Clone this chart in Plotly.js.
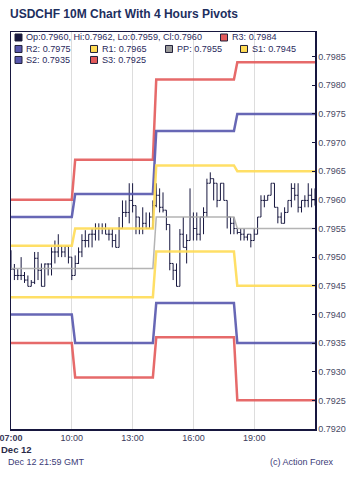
<!DOCTYPE html>
<html>
<head>
<meta charset="utf-8">
<script src="https://cdn.plot.ly/plotly-3.0.1.min.js"></script>
<style>
  html, body { margin: 0; padding: 0; background: #ffffff; }
  #chart { width: 350px; height: 481px; }
</style>
</head>
<body>
<div id="chart"></div>
<script>
// ---------------- DATA ----------------
const chartDay = '2025-12-12';
const firstBarTime = '07:00';
const barMinutes = 10;

const openP = [0.79509,0.79479,0.79468,0.79468,0.79468,0.79460,0.79449,0.79456,0.79498,0.79477,
  0.79449,0.79488,0.79488,0.79509,0.79509,0.79519,0.79509,0.79519,0.79500,0.79468,
  0.79489,0.79509,0.79529,0.79529,0.79540,0.79540,0.79550,0.79550,0.79550,0.79540,
  0.79540,0.79529,0.79517,0.79550,0.79578,0.79578,0.79599,0.79590,0.79570,0.79550,
  0.79559,0.79550,0.79570,0.79590,0.79608,0.79587,0.79582,0.79557,0.79489,0.79477,
  0.79449,0.79540,0.79517,0.79529,0.79570,0.79550,0.79540,0.79570,0.79578,0.79629,
  0.79637,0.79629,0.79599,0.79629,0.79599,0.79570,0.79559,0.79550,0.79543,0.79540,
  0.79535,0.79540,0.79529,0.79540,0.79570,0.79599,0.79599,0.79608,0.79629,0.79587,
  0.79570,0.79559,0.79578,0.79599,0.79620,0.79608,0.79587,0.79599,0.79599,0.79608,
  0.79600];
const highP = [0.79512,0.79488,0.79479,0.79500,0.79474,0.79468,0.79460,0.79509,0.79509,0.79489,
  0.79489,0.79489,0.79517,0.79529,0.79540,0.79519,0.79519,0.79519,0.79500,0.79503,
  0.79517,0.79540,0.79547,0.79540,0.79550,0.79559,0.79559,0.79559,0.79559,0.79550,
  0.79550,0.79540,0.79570,0.79599,0.79599,0.79629,0.79629,0.79590,0.79570,0.79587,
  0.79578,0.79578,0.79599,0.79629,0.79620,0.79613,0.79582,0.79557,0.79489,0.79489,
  0.79549,0.79570,0.79540,0.79620,0.79578,0.79578,0.79570,0.79587,0.79637,0.79648,
  0.79637,0.79629,0.79629,0.79629,0.79599,0.79570,0.79570,0.79550,0.79550,0.79550,
  0.79540,0.79540,0.79550,0.79570,0.79608,0.79608,0.79608,0.79629,0.79629,0.79587,
  0.79578,0.79587,0.79599,0.79629,0.79629,0.79629,0.79599,0.79608,0.79629,0.79620,
  0.79620];
const lowP = [0.79479,0.79460,0.79460,0.79460,0.79455,0.79449,0.79449,0.79453,0.79460,0.79449,
  0.79449,0.79468,0.79468,0.79489,0.79500,0.79500,0.79500,0.79489,0.79460,0.79468,
  0.79488,0.79500,0.79517,0.79517,0.79517,0.79529,0.79529,0.79540,0.79540,0.79529,
  0.79517,0.79517,0.79517,0.79550,0.79570,0.79559,0.79578,0.79540,0.79540,0.79540,
  0.79550,0.79550,0.79550,0.79587,0.79578,0.79578,0.79547,0.79477,0.79460,0.79449,
  0.79449,0.79517,0.79489,0.79529,0.79529,0.79529,0.79529,0.79540,0.79570,0.79629,
  0.79599,0.79587,0.79599,0.79599,0.79550,0.79540,0.79540,0.79540,0.79529,0.79529,
  0.79529,0.79517,0.79529,0.79540,0.79570,0.79587,0.79599,0.79608,0.79587,0.79559,
  0.79559,0.79559,0.79578,0.79587,0.79599,0.79578,0.79578,0.79587,0.79587,0.79587,
  0.79590];
const closeP = [0.79479,0.79468,0.79468,0.79468,0.79460,0.79449,0.79456,0.79498,0.79477,0.79449,
  0.79488,0.79488,0.79509,0.79509,0.79519,0.79509,0.79519,0.79500,0.79468,0.79489,
  0.79509,0.79529,0.79529,0.79540,0.79540,0.79550,0.79550,0.79550,0.79540,0.79540,
  0.79529,0.79517,0.79550,0.79578,0.79578,0.79599,0.79590,0.79570,0.79550,0.79559,
  0.79550,0.79570,0.79590,0.79608,0.79587,0.79582,0.79557,0.79489,0.79477,0.79449,
  0.79540,0.79517,0.79529,0.79570,0.79550,0.79540,0.79570,0.79578,0.79629,0.79637,
  0.79629,0.79599,0.79629,0.79599,0.79570,0.79559,0.79550,0.79543,0.79540,0.79535,
  0.79540,0.79529,0.79540,0.79570,0.79599,0.79599,0.79608,0.79629,0.79587,0.79570,
  0.79559,0.79578,0.79599,0.79620,0.79608,0.79587,0.79599,0.79599,0.79608,0.79600,
  0.79600];

// 4-hour pivot segments
const segStart = ['07:00', '10:10', '14:10', '18:10'];
const segEnd   = ['10:00', '14:00', '18:00', '22:00'];
const pivR3 = [0.7960, 0.7967, 0.7981, 0.7984];
const pivR2 = [0.7957, 0.7961, 0.7972, 0.7975];
const pivR1 = [0.7952, 0.7955, 0.7966, 0.7965];
const pivPP = [0.7948, 0.7948, 0.7957, 0.7955];
const pivS1 = [0.7943, 0.7943, 0.7951, 0.7945];
const pivS2 = [0.7940, 0.7935, 0.7942, 0.7935];
const pivS3 = [0.7935, 0.7929, 0.7936, 0.7925];

const xTickLabels = ['07:00', '10:00', '13:00', '16:00', '19:00'];
const yRange = [0.7920, 0.79893];
const timeStamp = 'Dec 12 21:59 GMT';
const dateLabel = 'Dec 12';

// ---------------- BUILD ----------------
const dt = s => chartDay + ' ' + s;
const [h0, m0] = firstBarTime.split(':').map(Number);
const pad = n => String(n).padStart(2, '0');
const times = closeP.map((_, i) => {
  const mins = h0 * 60 + m0 + i * barMinutes;
  return dt(pad(Math.floor(mins / 60)) + ':' + pad(mins % 60));
});

function pivotTrace(vals, color, width) {
  const x = [], y = [];
  vals.forEach((v, k) => { x.push(dt(segStart[k]), dt(segEnd[k])); y.push(v, v); });
  return { type: 'scatter', mode: 'lines', x, y, line: { color, width, shape: 'linear' },
           opacity: 0.9, showlegend: false, hoverinfo: 'skip' };
}

const RED = '#e35a5a', BLUE = '#5757ad', YEL = '#ffdc55', GRAY = '#acacac', NAVY = '#17173f';

const traces = [
  pivotTrace(pivR3, RED, 2.5), pivotTrace(pivS3, RED, 2.5),
  pivotTrace(pivR2, BLUE, 2.5), pivotTrace(pivS2, BLUE, 2.5),
  pivotTrace(pivR1, YEL, 2.5), pivotTrace(pivS1, YEL, 2.5),
  pivotTrace(pivPP, GRAY, 1.5),
  { type: 'ohlc', x: times, open: openP, high: highP, low: lowP, close: closeP,
    increasing: { line: { color: NAVY, width: 1 } },
    decreasing: { line: { color: NAVY, width: 1 } },
    tickwidth: 0.45, showlegend: false, hoverinfo: 'skip' }
];

// pixel helpers for plot area (l=11, t=31.5, w=304, h=397.5)
const L = 11, T = 31.5, W = 304, H = 397.5;
const px = v => (v - L) / W;
const py = v => (T + H - v) / H;

const last = closeP.length - 1;
const f4 = v => v.toFixed(4);
const legendItems = [
  { text: `Op:${f4(openP[last])}, Hi:${f4(highP[last])}, Lo:${f4(lowP[last])}, Cl:${f4(closeP[last])}`, color: NAVY, cx: 18.5, cy: 37 },
  { text: 'R3: ' + f4(pivR3[3]), color: RED,  cx: 224,  cy: 37 },
  { text: 'R2: ' + f4(pivR2[3]), color: BLUE, cx: 18.5, cy: 48.5 },
  { text: 'R1: ' + f4(pivR1[3]), color: YEL,  cx: 94,   cy: 48.5 },
  { text: 'PP: ' + f4(pivPP[3]), color: '#9a9a9a', cx: 169, cy: 48.5 },
  { text: 'S1: ' + f4(pivS1[3]), color: YEL,  cx: 244,  cy: 48.5 },
  { text: 'S2: ' + f4(pivS2[3]), color: BLUE, cx: 18.5, cy: 59.5 },
  { text: 'S3: ' + f4(pivS3[3]), color: RED,  cx: 94,   cy: 59.5 }
];

const shapes = [
  { type: 'rect', xref: 'paper', yref: 'paper', x0: px(11.5), x1: px(314.5), y0: py(54), y1: py(32),
    fillcolor: '#ffffff', line: { width: 0 }, layer: 'below' },
  { type: 'rect', xref: 'paper', yref: 'paper', x0: px(11.5), x1: px(150), y0: py(65), y1: py(54),
    fillcolor: '#ffffff', line: { width: 0 }, layer: 'below' }
];
const annotations = [];
const FONT = 'Liberation Sans, Arial, sans-serif';
legendItems.forEach(it => {
  shapes.push({ type: 'rect', xref: 'paper', yref: 'paper',
    x0: px(it.cx - 3.5), x1: px(it.cx + 3.5), y0: py(it.cy + 3.5), y1: py(it.cy - 3.5),
    fillcolor: it.color, line: { color: '#20203a', width: 1 } });
  annotations.push({ xref: 'paper', yref: 'paper', x: px(it.cx + 5.5), y: py(it.cy),
    xanchor: 'left', yanchor: 'middle', showarrow: false, text: it.text,
    font: { family: FONT, size: 9.1, color: '#2a2a5c' } });
});
annotations.push(
  { xref: 'paper', yref: 'paper', x: px(-1), y: py(450), xanchor: 'left', yanchor: 'middle',
    showarrow: false, text: '<b>' + dateLabel + '</b>', font: { family: FONT, size: 9.5, color: '#2a2a48' } },
  { xref: 'paper', yref: 'paper', x: px(6), y: py(462), xanchor: 'left', yanchor: 'middle',
    showarrow: false, text: timeStamp, font: { family: FONT, size: 9, color: '#3c3c78' } },
  { xref: 'paper', yref: 'paper', x: px(336), y: py(462), xanchor: 'right', yanchor: 'middle',
    showarrow: false, text: '(c) Action Forex', font: { family: FONT, size: 9, color: '#3c3c78' } }
);

const layout = {
  width: 350, height: 481,
  margin: { l: L, r: 350 - L - W, t: T, b: 481 - T - H, pad: 0 },
  paper_bgcolor: '#ffffff', plot_bgcolor: '#ffffff',
  font: { family: FONT, size: 9, color: '#4a4a66' },
  title: { text: 'USDCHF 10M Chart With 4 Hours Pivots', x: 10 / 350, xref: 'container', xanchor: 'left',
           y: 1 - 14 / 481, yref: 'container', yanchor: 'middle',
           font: { family: FONT, size: 12, color: '#1d2e5e', weight: 'bold' } },
  showlegend: false,
  hovermode: false,
  xaxis: {
    type: 'date', range: [dt('07:00'), dt('22:00')],
    tickvals: xTickLabels.map(dt),
    ticktext: xTickLabels.map((s, i) => i === 0 ? '<b>' + s + '</b>' : s),
    tickfont: { family: FONT, size: 9, color: '#3a3a5a' },
    ticklabeloverflow: 'allow',
    showgrid: true, gridcolor: '#dddddd', gridwidth: 1,
    showline: true, mirror: true, linecolor: NAVY, linewidth: 1.5,
    ticks: '', zeroline: false, rangeslider: { visible: false }, fixedrange: true
  },
  yaxis: {
    side: 'right', range: yRange, dtick: 0.0005, tick0: 0.7920, tickformat: '.4f',
    tickfont: { family: FONT, size: 9, color: '#4a4a66' },
    ticklabeloverflow: 'allow',
    ticks: 'inside', ticklen: 3, tickcolor: NAVY, tickwidth: 1,
    showgrid: false, zeroline: false,
    showline: true, mirror: true, linecolor: NAVY, linewidth: 1.5, fixedrange: true
  },
  shapes, annotations
};

Plotly.newPlot('chart', traces, layout, { staticPlot: true, displayModeBar: false });
</script>
</body>
</html>
